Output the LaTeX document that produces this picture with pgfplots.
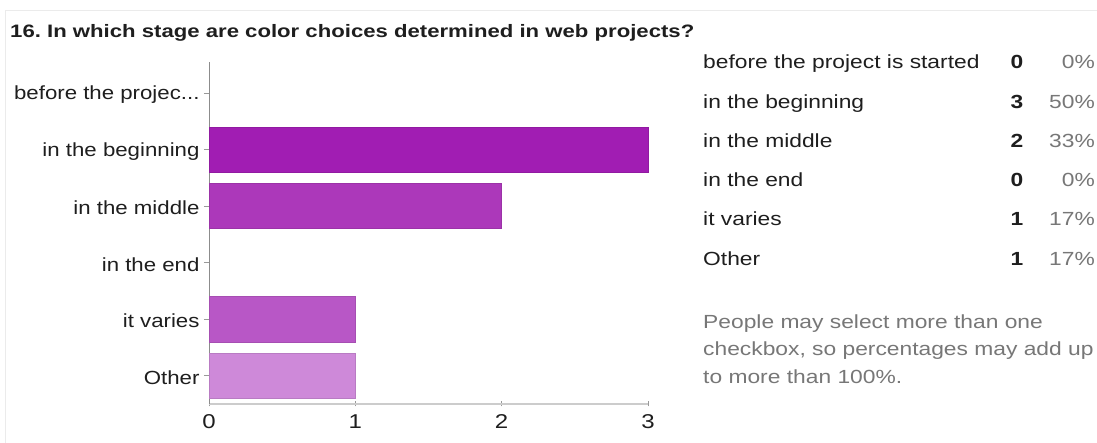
\documentclass[border=0pt]{standalone}
\usepackage{pgfplots}
\pgfplotsset{compat=1.18}
\usepackage{fontspec}
\setmainfont{Liberation Sans}
\definecolor{cbeg}{RGB}{161,29,179}
\definecolor{cmid}{RGB}{172,56,186}
\definecolor{cvar}{RGB}{184,87,198}
\definecolor{coth}{RGB}{206,137,217}
\definecolor{txt}{RGB}{30,30,30}
\definecolor{note}{RGB}{119,119,119}
\newcommand{\tdots}{...}
\newcommand{\sx}[1]{\scalebox{1.2}[1]{#1}}
\newcommand{\sy}[1]{\scalebox{1.17}[1]{#1}}
\begin{document}
\begin{tikzpicture}[x=1pt,y=1pt]
\useasboundingbox (0,0) rectangle (1097,443);
\fill[white] (0,0) rectangle (1097,443);
\draw[black!8] (5,0) -- (5,433) -- (1097,433);
\node[anchor=base west, inner sep=0, font=\fontsize{18}{20}\selectfont\bfseries, text=txt] at (10,405) {\scalebox{1.23}[1]{16.\ In which stage are color choices determined in web projects?}};
\begin{axis}[at={(209pt,39pt)}, anchor=south west, scale only axis,
  width=439pt, height=342pt,
  xmin=0, xmax=3, ymin=-0.5, ymax=5.55,
  axis lines=left, axis line style={-},
  x axis line style={draw=black!20, line width=1.5pt},
  y axis line style={draw=black!45, line width=0.8pt},
  xtick={0,1,2,3}, ytick={0,1,2,3,4,5},
  xticklabels={\sx{0},\sx{1},\sx{2},\sx{3}},
  yticklabels={\sy{Other}, \sy{it varies}, \sy{in the end}, \sy{in the middle}, \sy{in the beginning}, {\sy{before the projec\tdots}}},
  tick style={draw=black!40, line width=0.6pt}, major tick length=5pt,
  ytick align=outside, xtick align=center,
  ticklabel style={font=\fontsize{19}{21}\selectfont, text=txt},
  yticklabel style={xshift=-1pt, yshift=-2pt},
  xticklabel style={yshift=-5pt, font=\fontsize{20}{22}\selectfont},
  clip=false]
\addplot[xbar, bar shift=0pt, bar width=45pt, draw=none, fill=none] coordinates {(0,5)};
\addplot[xbar, bar shift=0pt, bar width=45pt, draw=cbeg!90!black, line width=0.4pt, fill=cbeg] coordinates {(3,4)};
\addplot[xbar, bar shift=0pt, bar width=45pt, draw=cmid!90!black, line width=0.4pt, fill=cmid] coordinates {(2,3)};
\addplot[xbar, bar shift=0pt, bar width=45pt, draw=none, fill=none] coordinates {(0,2)};
\addplot[xbar, bar shift=0pt, bar width=45pt, draw=cvar!90!black, line width=0.4pt, fill=cvar] coordinates {(1,1)};
\addplot[xbar, bar shift=0pt, bar width=45pt, draw=coth!90!black, line width=0.4pt, fill=coth] coordinates {(1,0)};
\end{axis}
\begin{scope}[every node/.style={inner sep=0, font=\fontsize{19}{21}\selectfont}]
\node[anchor=base west, text=txt] at (703,374) {\sx{before the project is started}};
\node[anchor=base west, text=txt] at (703,334.5) {\sx{in the beginning}};
\node[anchor=base west, text=txt] at (703,295) {\sx{in the middle}};
\node[anchor=base west, text=txt] at (703,256) {\sx{in the end}};
\node[anchor=base west, text=txt] at (703,217) {\sx{it varies}};
\node[anchor=base west, text=txt] at (703,177) {\sx{Other}};
\node[anchor=base, text=txt, font=\fontsize{19}{21}\selectfont\bfseries] at (1017,374) {\sx{0}};
\node[anchor=base, text=txt, font=\fontsize{19}{21}\selectfont\bfseries] at (1017,334.5) {\sx{3}};
\node[anchor=base, text=txt, font=\fontsize{19}{21}\selectfont\bfseries] at (1017,295) {\sx{2}};
\node[anchor=base, text=txt, font=\fontsize{19}{21}\selectfont\bfseries] at (1017,256) {\sx{0}};
\node[anchor=base, text=txt, font=\fontsize{19}{21}\selectfont\bfseries] at (1017,217) {\sx{1}};
\node[anchor=base, text=txt, font=\fontsize{19}{21}\selectfont\bfseries] at (1017,177) {\sx{1}};
\node[anchor=base east, text=note] at (1095,374) {\sx{0\%}};
\node[anchor=base east, text=note] at (1095,334.5) {\sx{50\%}};
\node[anchor=base east, text=note] at (1095,295) {\sx{33\%}};
\node[anchor=base east, text=note] at (1095,256) {\sx{0\%}};
\node[anchor=base east, text=note] at (1095,217) {\sx{17\%}};
\node[anchor=base east, text=note] at (1095,177) {\sx{17\%}};
\node[anchor=base west, text=note] at (703,114) {\sx{People may select more than one}};
\node[anchor=base west, text=note] at (703,87) {\sx{checkbox, so percentages may add up}};
\node[anchor=base west, text=note] at (703,59) {\sx{to more than 100\%.}};
\end{scope}
\end{tikzpicture}
\end{document}
